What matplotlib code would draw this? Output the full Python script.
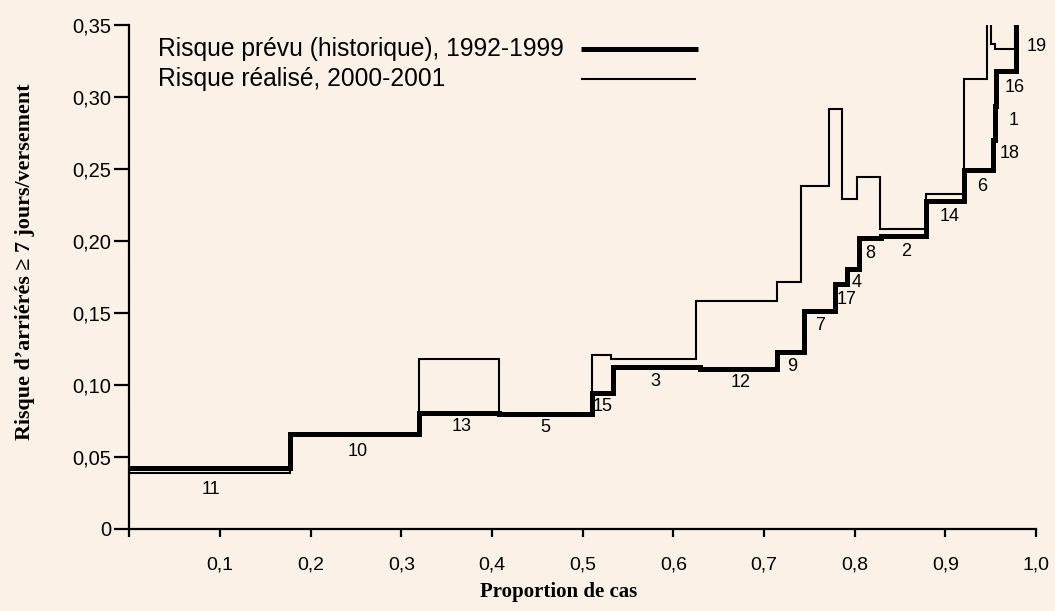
import numpy as np
import matplotlib
matplotlib.use("Agg")
import matplotlib.pyplot as plt

# groupes, dans l'ordre du risque prévu
groupes = ["11", "10", "13", "5", "15", "3", "12", "9", "7", "17",
           "4", "8", "2", "14", "6", "18", "1", "16", "19"]

# risque prévu (historique), 1992-1999 : bornes cumulées et valeurs
bornes_prevu = [0, 0.1772, 0.3197, 0.4079, 0.5098, 0.5336, 0.6292, 0.7138,
                0.7439, 0.7784, 0.7910, 0.8043, 0.8288, 0.8792, 0.9206,
                0.9526, 0.9548, 0.9563, 0.9784, 1.0]
risque_prevu = [0.0419, 0.0656, 0.0802, 0.0795, 0.0945, 0.1122, 0.1110,
                0.1230, 0.1509, 0.1699, 0.1806, 0.2020, 0.2031, 0.2279,
                0.2495, 0.2704, 0.2935, 0.3179, 0.38]

# risque réalisé, 2000-2001
bornes_realise = [0, 0.1772, 0.3194, 0.4076, 0.5098, 0.5311, 0.6251, 0.7141,
                  0.7413, 0.7718, 0.7861, 0.8027, 0.8284, 0.8784, 0.9206,
                  0.9464, 0.9508, 0.9545, 0.9773, 1.0]
risque_realise = [0.0384, 0.0656, 0.1177, 0.0795, 0.1207, 0.1177, 0.1583,
                  0.1717, 0.2383, 0.2917, 0.2293, 0.2444, 0.2084, 0.2328,
                  0.3128, 0.40, 0.3370, 0.3335, 0.40]

x_ticks = [0, 0.1, 0.2, 0.3, 0.4, 0.5, 0.6, 0.7, 0.8, 0.9, 1.0]
x_labels = ["", "0,1", "0,2", "0,3", "0,4", "0,5", "0,6", "0,7", "0,8", "0,9", "1,0"]
y_ticks = [0, 0.05, 0.10, 0.15, 0.20, 0.25, 0.30, 0.35]
y_labels = ["0", "0,05", "0,10", "0,15", "0,20", "0,25", "0,30", "0,35"]

# décalage des numéros de groupe (pixels) par rapport au palier
dec_x = [1, 3, 2, 0, 0, -1, 2, 2, 1, 6, 4, 1, 2, 4, 4, 16, 18, 8, 10]
dec_y = [21, 17, 13, 13, 14, 14, 14, 15, 14, 15, 14, 16, 15, 16, 17, 14, 14, 16, 21]

fond = "#FBF1E6"
fig = plt.figure(figsize=(10.55, 6.11), dpi=100, facecolor=fond)
ax = fig.add_axes([0.1226, 0.135, 0.8594, 0.824])
ax.set_facecolor(fond)

ax.stairs(risque_realise, bornes_realise, baseline=None, color="black", lw=1.5)
ax.stairs(risque_prevu, bornes_prevu, baseline=None, color="black", lw=3.6)

ax.set_xlim(0, 1.0)
ax.set_ylim(0, 0.35)

for i, g in enumerate(groupes):
    xm = (bornes_prevu[i] + bornes_prevu[i + 1]) / 2
    ym = min(risque_prevu[i], 0.35)
    ax.annotate(g, (xm, ym), xytext=(dec_x[i], -dec_y[i]), textcoords="offset pixels",
                ha="center", va="center", fontsize=13, family="Liberation Sans",
                annotation_clip=False)

ax.spines["top"].set_visible(False)
ax.spines["right"].set_visible(False)
ax.spines["left"].set_linewidth(1.6)
ax.spines["bottom"].set_linewidth(1.6)
ax.spines["left"].set_bounds(0, 0.35)

ax.set_xticks(x_ticks)
ax.set_xticklabels(x_labels, family="Liberation Sans", fontsize=14)
ax.set_yticks(y_ticks)
ax.set_yticklabels(y_labels, family="Liberation Sans", fontsize=14.5)
ax.tick_params(axis="x", direction="out", length=6, width=1.6, pad=14)
ax.tick_params(axis="y", direction="out", length=11, width=1.6, pad=2)

# légende
ax.text(0.0317, 0.9517, "Risque prévu (historique), 1992-1999", transform=ax.transAxes,
        fontsize=17.7, family="Liberation Sans", va="center", ha="left")
ax.text(0.0317, 0.8922, "Risque réalisé, 2000-2001", transform=ax.transAxes,
        fontsize=17.7, family="Liberation Sans", va="center", ha="left")
ax.plot([0.4982, 0.6271], [0.9517, 0.9517], transform=ax.transAxes, color="black",
        lw=3.6, solid_capstyle="butt")
ax.plot([0.4982, 0.6249], [0.8922, 0.8922], transform=ax.transAxes, color="black",
        lw=1.5, solid_capstyle="butt")

fig.text(559 / 1055, 1 - 592 / 611, "Proportion de cas", ha="center", va="center",
         fontsize=15, family="Liberation Serif", fontweight="bold")
fig.text(25 / 1055, 1 - 262 / 611, "Risque d\u2019arriérés \u2265 7 jours/versement",
         ha="center", va="center", rotation=90, fontsize=15.8,
         family=["Liberation Serif", "DejaVu Serif"], fontweight="bold")

fig.savefig("out.png", dpi=100, facecolor=fond)
